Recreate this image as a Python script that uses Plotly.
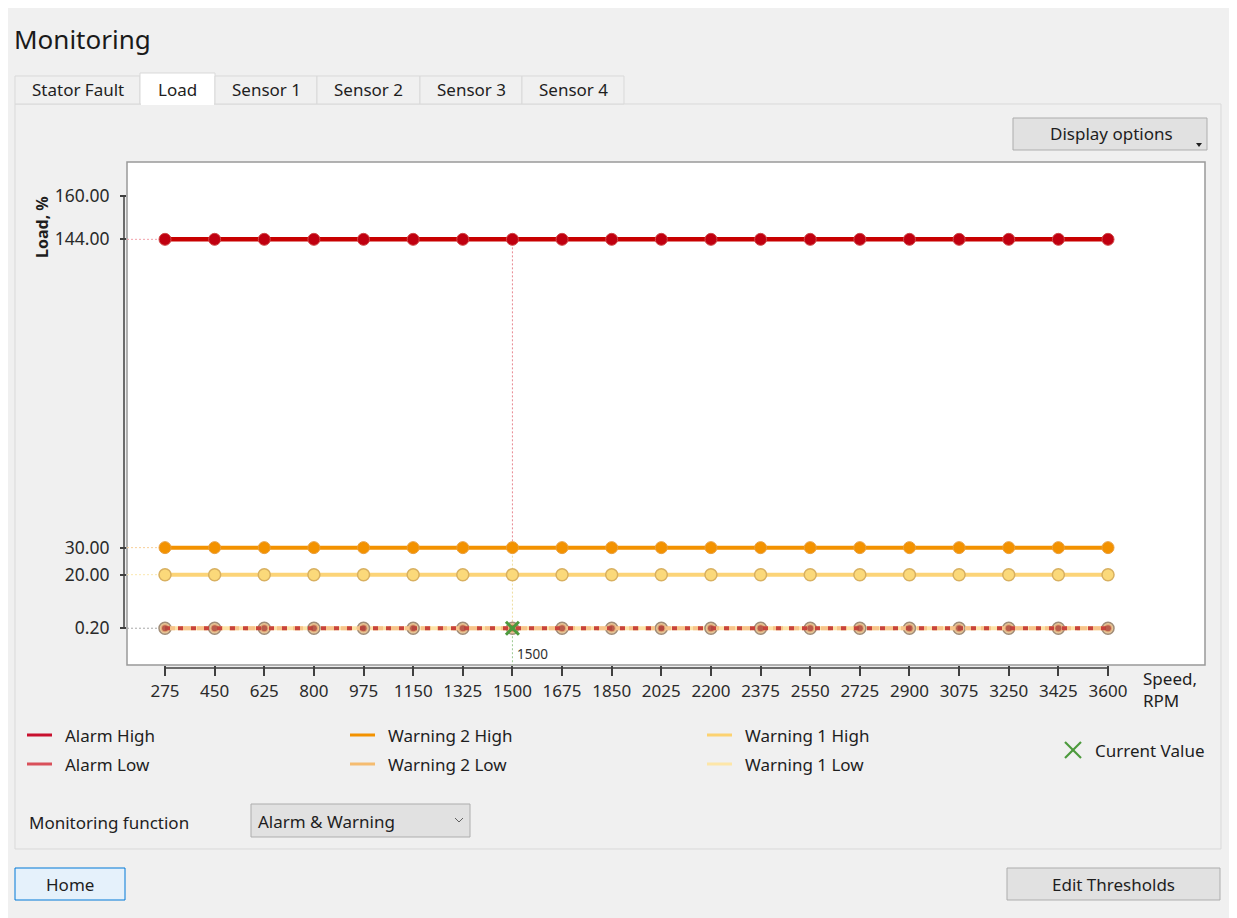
import plotly.graph_objects as go

W, H = 1237, 918
FONT = "Noto Sans"

speeds = [275, 450, 625, 800, 975, 1150, 1325, 1500, 1675, 1850,
          2025, 2200, 2375, 2550, 2725, 2900, 3075, 3250, 3425, 3600]
alarm_high = [144.0, 144.0, 144.0, 144.0, 144.0, 144.0, 144.0, 144.0, 144.0, 144.0,
              144.0, 144.0, 144.0, 144.0, 144.0, 144.0, 144.0, 144.0, 144.0, 144.0]
alarm_low = [0.2, 0.2, 0.2, 0.2, 0.2, 0.2, 0.2, 0.2, 0.2, 0.2,
             0.2, 0.2, 0.2, 0.2, 0.2, 0.2, 0.2, 0.2, 0.2, 0.2]
warning2_high = [30.0, 30.0, 30.0, 30.0, 30.0, 30.0, 30.0, 30.0, 30.0, 30.0,
                 30.0, 30.0, 30.0, 30.0, 30.0, 30.0, 30.0, 30.0, 30.0, 30.0]
warning2_low = [0.2, 0.2, 0.2, 0.2, 0.2, 0.2, 0.2, 0.2, 0.2, 0.2,
                0.2, 0.2, 0.2, 0.2, 0.2, 0.2, 0.2, 0.2, 0.2, 0.2]
warning1_high = [20.0, 20.0, 20.0, 20.0, 20.0, 20.0, 20.0, 20.0, 20.0, 20.0,
                 20.0, 20.0, 20.0, 20.0, 20.0, 20.0, 20.0, 20.0, 20.0, 20.0]
warning1_low = [0.2, 0.2, 0.2, 0.2, 0.2, 0.2, 0.2, 0.2, 0.2, 0.2,
                0.2, 0.2, 0.2, 0.2, 0.2, 0.2, 0.2, 0.2, 0.2, 0.2]
current_speed = [1500]
current_load = [0.2]

y_ticks = [0.2, 20, 30, 144, 160]
y_tick_labels = ["0.20", "20.00", "30.00", "144.00", "160.00"]
x_range = [141, 3942]
y_range = [-13.4, 172.6]

tabs = ["Stator Fault", "Load", "Sensor 1", "Sensor 2", "Sensor 3", "Sensor 4"]
tab_edges = [15, 140, 215, 317, 420, 522, 624]
legend_names = ["Alarm High", "Alarm Low", "Warning 2 High", "Warning 2 Low",
                "Warning 1 High", "Warning 1 Low"]

# page offset of the figure (browser body margin) and plot box in screen pixels
OFF = 8
BOX = (127, 162, 1205, 665)
PW = BOX[2] - BOX[0]
PH = BOX[3] - BOX[1]


def fx(p):
    return (p - BOX[0]) / PW


def fy(p):
    return 1 - (p - BOX[1]) / PH


shapes = []
annotations = []


def rect(x0, y0, x1, y1, fill, line, lw=1):
    shapes.append(dict(type="rect", xref="paper", yref="paper",
                       x0=fx(x0), x1=fx(x1), y0=fy(y1), y1=fy(y0),
                       fillcolor=fill, line=dict(color=line, width=lw), layer="below"))


def seg(x0, y0, x1, y1, color, lw=1, layer="below"):
    shapes.append(dict(type="line", xref="paper", yref="paper",
                       x0=fx(x0), x1=fx(x1), y0=fy(y0), y1=fy(y1),
                       line=dict(color=color, width=lw), layer=layer))


def text(x, y, s, size=17, anchor="left", color="#1e1e1e", bold=False, angle=0):
    annotations.append(dict(x=fx(x), y=fy(y), xref="paper", yref="paper", text=s,
                            showarrow=False, xanchor=anchor, yanchor="middle",
                            textangle=angle,
                            font=dict(size=size, color=color, family=FONT,
                                      weight="bold" if bold else "normal")))


# tab pane and tabs
rect(15, 104, 1221, 849, "#f0f0f0", "#d9d9d9", 1)
for i, name in enumerate(tabs):
    x0, x1 = tab_edges[i], tab_edges[i + 1]
    if name == "Load":
        rect(x0, 73, x1, 104, "#ffffff", "#d9d9d9", 1)
        seg(x0 + 1, 104, x1 - 1, 104, "#ffffff", 2)
    else:
        rect(x0, 76, x1, 104, "#f0f0f0", "#d9d9d9", 1)
    text((x0 + x1) / 2, 89, name, size=17, anchor="center")

# display options button
rect(1013, 118, 1207, 150, "#e1e1e1", "#adadad", 1)
text(1111, 134, "Display options", anchor="center")
shapes.append(dict(type="path", xref="paper", yref="paper", layer="above",
                   path="M {} {} L {} {} L {} {} Z".format(fx(1196), fy(143), fx(1202), fy(143),
                                                         fx(1199), fy(147)),
                   fillcolor="#202020", line=dict(width=0)))

# plot box
rect(BOX[0], BOX[1], BOX[2], BOX[3], "#ffffff", "#999999", 1.5)

# axis lines
shapes.append(dict(type="line", xref="paper", yref="y", x0=fx(124), x1=fx(124),
                   y0=y_ticks[0], y1=y_ticks[-1], line=dict(color="#404040", width=1.5)))
shapes.append(dict(type="line", xref="x", yref="paper", x0=speeds[0], x1=speeds[-1],
                   y0=fy(668), y1=fy(668), line=dict(color="#404040", width=1.5)))

text(42, 227, "Load, %", size=16, anchor="center", bold=True, angle=-90)
text(1141, 678, "Speed,", size=17)
text(1141, 700, "RPM", size=17)

# legend
legend_colors = ["#c8102e", "#d9505a", "#f39200", "#f5bc70", "#fcd270", "#fde6a8"]
legend_pos = [(27, 735), (27, 764), (350, 735), (350, 764), (707, 735), (707, 764)]
for name, col, (lx, ly) in zip(legend_names, legend_colors, legend_pos):
    seg(lx, ly, lx + 25, ly, col, 3, layer="above")
    text(lx + 36, ly, name, size=17)
# green cross of the "Current Value" entry
cx, cy, cr = 1073, 750, 8
seg(cx - cr, cy - cr, cx + cr, cy + cr, "#4c9a3c", 2.2, layer="above")
seg(cx - cr, cy + cr, cx + cr, cy - cr, "#4c9a3c", 2.2, layer="above")
text(1093, 750, "Current Value", size=17)

# bottom controls
text(27, 822, "Monitoring function", size=17)
rect(251, 804, 470, 837, "#e1e1e1", "#adadad", 1)
text(256, 821, "Alarm & Warning", size=17)
shapes.append(dict(type="path", xref="paper", yref="paper", layer="above",
                   path="M {} {} L {} {} L {} {}".format(fx(455), fy(818), fx(459), fy(822),
                                                       fx(463), fy(818)),
                   line=dict(color="#606060", width=1)))
rect(15, 868, 125, 900, "#e5f1fb", "#0078d7", 1)
text(70, 884, "Home", anchor="center")
rect(1007, 868, 1220, 900, "#e1e1e1", "#adadad", 1)
text(1113, 884, "Edit Thresholds", anchor="center")

# label of the current speed under the crosshair
annotations.append(dict(x=current_speed[0], y=fy(654), xref="x", yref="paper",
                        text=str(current_speed[0]), showarrow=False, xanchor="left",
                        yanchor="middle", xshift=3,
                        font=dict(size=13.5, color="#303030", family=FONT)))

fig = go.Figure(layout=dict(
    width=W, height=H,
    margin=dict(l=BOX[0] - OFF, r=W - (BOX[2] - OFF), t=BOX[1] - OFF, b=H - (BOX[3] - OFF),
                autoexpand=False),
    title=dict(text="Monitoring", x=(14 - OFF) / W, xanchor="left", xref="container",
               y=1 - (40 - OFF) / H, yanchor="middle", yref="container",
               font=dict(size=26, color="#1a1a1a", family=FONT)),
    paper_bgcolor="#f0f0f0", plot_bgcolor="rgba(0,0,0,0)",
    showlegend=False,
    shapes=shapes, annotations=annotations,
    font=dict(family=FONT, size=17, color="#333333"),
))

# dotted guides from the axis to the first point
guides = [(alarm_high[0], "#f2a2aa"), (warning2_high[0], "#f7cf98"),
          (warning1_high[0], "#fbe8b0"), (alarm_low[0], "#a8a8a8")]
for level, col in guides:
    fig.add_trace(go.Scatter(x=[x_range[0], speeds[0]], y=[level, level], mode="lines",
                             line=dict(color=col, width=1, dash="2px,2px"),
                             hoverinfo="skip", showlegend=False))

# crosshair at the current speed
idx = speeds.index(current_speed[0])
cross = [(alarm_high[idx], warning2_high[idx], "#e88890"),
         (warning2_high[idx], alarm_low[idx], "#eedc9c"),
         (alarm_low[idx], y_range[0], "#9cc890")]
for ya, yb, col in cross:
    fig.add_trace(go.Scatter(x=[current_speed[0], current_speed[0]], y=[ya, yb], mode="lines",
                             line=dict(color=col, width=1, dash="2px,2px"),
                             hoverinfo="skip", showlegend=False))

fig.add_trace(go.Scatter(x=speeds, y=warning1_low, mode="lines+markers", name="Warning 1 Low",
                         line=dict(color="#fde3a7", width=4),
                         marker=dict(size=12, color="#e8c89a", line=dict(color="#a08c78", width=1.5))))
fig.add_trace(go.Scatter(x=speeds, y=warning2_low, mode="lines+markers", name="Warning 2 Low",
                         line=dict(color="#f7c48a", width=4, dash="10px,6px"),
                         marker=dict(size=8, color="#e0a878")))
fig.add_trace(go.Scatter(x=speeds, y=alarm_low, mode="lines+markers", name="Alarm Low",
                         line=dict(color="#c8433b", width=4, dash="5px,8px"),
                         marker=dict(size=6, color="#b04a40", opacity=0.8)))
fig.add_trace(go.Scatter(x=speeds, y=warning1_high, mode="lines+markers", name="Warning 1 High",
                         line=dict(color="#fcd478", width=4),
                         marker=dict(size=12, color="#fbd97a", line=dict(color="#d8b060", width=1.5))))
fig.add_trace(go.Scatter(x=speeds, y=warning2_high, mode="lines+markers", name="Warning 2 High",
                         line=dict(color="#f39200", width=4),
                         marker=dict(size=12, color="#f39200", line=dict(color="#e9a040", width=1))))
fig.add_trace(go.Scatter(x=speeds, y=alarm_high, mode="lines+markers", name="Alarm High",
                         line=dict(color="#c80000", width=4.5),
                         marker=dict(size=12, color="#c00010", line=dict(color="#d04848", width=1))))
fig.add_trace(go.Scatter(x=current_speed, y=current_load, mode="markers", name="Current Value",
                         marker=dict(symbol="x-thin", size=13, line=dict(color="#4c9a3c", width=3))))

fig.update_xaxes(range=x_range, tickvals=speeds, ticks="outside", ticklen=10, tickwidth=1.5,
                 tickcolor="#404040", showgrid=False, zeroline=False, showline=False,
                 tickfont=dict(size=17, color="#2a2a2a", family=FONT), ticklabelstandoff=1)
fig.update_yaxes(range=y_range, tickvals=y_ticks, ticktext=y_tick_labels, ticks="outside",
                 ticklen=6, tickwidth=1.5, tickcolor="#404040", showgrid=False, zeroline=False,
                 showline=False, tickfont=dict(size=17.5, color="#2a2a2a", family=FONT),
                 ticklabelstandoff=7)

fig.write_html("out.html")
